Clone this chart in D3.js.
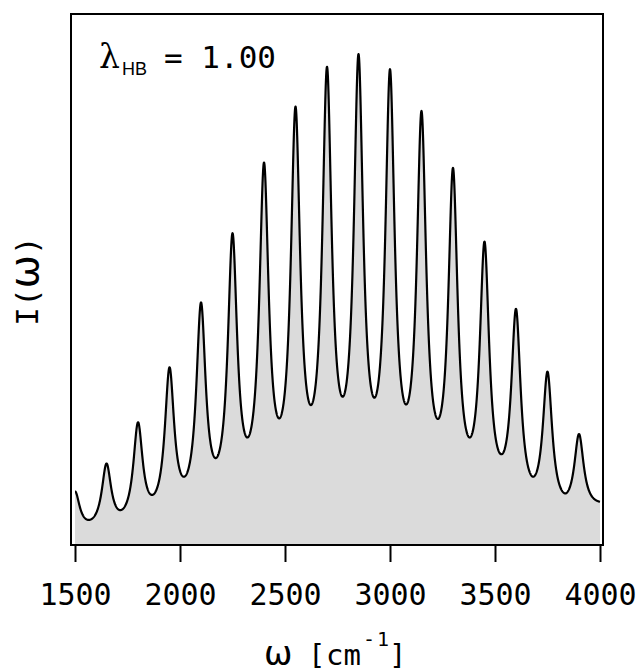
<!DOCTYPE html>
<html>
<head>
<meta charset="utf-8">
<script src="https://cdnjs.cloudflare.com/ajax/libs/d3/7.8.5/d3.min.js"></script>
<style>
  body { margin: 0; background: #fff; }
  svg { display: block; }
  .tick text { font-family: "DejaVu Sans Mono", monospace; }
</style>
</head>
<body>
<div id="chart"></div>
<script>
// peak maxima (cm^-1, relative intensity, tallest = 1)
const peakCm = [1500, 1650, 1800, 1950, 2100, 2250, 2400, 2550, 2700, 2850, 3000, 3150, 3300, 3450, 3600, 3750, 3900];
const peakHeight = [0.109, 0.166, 0.250, 0.362, 0.494, 0.635, 0.779, 0.893, 0.974, 1.000, 0.969, 0.884, 0.768, 0.618, 0.481, 0.353, 0.226];
// minima between the peaks (last one is the value at the right edge)
const valleyCm = [1567, 1714, 1868, 2019, 2170, 2322, 2471, 2624, 2775, 2925, 3080, 3230, 3381, 3532, 3680, 3837, 4000];
const valleyHeight = [0.051, 0.071, 0.102, 0.139, 0.177, 0.219, 0.258, 0.285, 0.302, 0.300, 0.287, 0.257, 0.219, 0.185, 0.139, 0.105, 0.088];
const xTicks = [1500, 2000, 2500, 3000, 3500, 4000];
const lineWidth = 27; // lorentzian half width, cm^-1

const W = 641, H = 672;
const frame = {left: 71, top: 14, right: 603, bottom: 545};

const x = d3.scaleLinear().domain([1500, 4000]).range([75, 600]);
const y = d3.scaleLinear().domain([0, 1.0815]).range([frame.bottom, frame.top]);

// lorentzian lines on a slowly varying baseline; amplitudes and baseline
// nodes are solved so the curve passes through the read maxima and minima
const lor = d => 1 / (1 + (d / lineWidth) ** 2);
function baseWeights(w) {
  const n = valleyCm.length, wts = new Array(n).fill(0);
  if (w <= valleyCm[0]) { wts[0] = 1; return wts; }
  if (w >= valleyCm[n - 1]) { wts[n - 1] = 1; return wts; }
  for (let j = 0; j < n - 1; j++) {
    if (w >= valleyCm[j] && w <= valleyCm[j + 1]) {
      const t = (w - valleyCm[j]) / (valleyCm[j + 1] - valleyCm[j]);
      wts[j] = 1 - t; wts[j + 1] = t;
      break;
    }
  }
  return wts;
}
function solve(M, b) {
  const n = b.length;
  const a = M.map((r, i) => r.concat([b[i]]));
  for (let c = 0; c < n; c++) {
    let p = c;
    for (let r = c + 1; r < n; r++) if (Math.abs(a[r][c]) > Math.abs(a[p][c])) p = r;
    [a[c], a[p]] = [a[p], a[c]];
    for (let r = 0; r < n; r++) {
      if (r === c) continue;
      const f = a[r][c] / a[c][c];
      for (let k = c; k <= n; k++) a[r][k] -= f * a[c][k];
    }
  }
  return a.map((r, i) => r[n] / r[i]);
}
const pts = peakCm.map((w, i) => [w, peakHeight[i]]).concat(valleyCm.map((w, i) => [w, valleyHeight[i]]));
const rows = pts.map(([w]) => peakCm.map(c => lor(w - c)).concat(baseWeights(w)));
const sol = solve(rows, pts.map(p => p[1]));
const amp = sol.slice(0, peakCm.length), base = sol.slice(peakCm.length);

const intensity = w => d3.sum(peakCm, (c, k) => amp[k] * lor(w - c)) + d3.sum(baseWeights(w), (t, j) => t * base[j]);
const spectrum = d3.range(1500, 4000.5, 1).map(w => ({w, v: intensity(w)}));

const svg = d3.select("#chart").append("svg").attr("width", W).attr("height", H);

svg.append("clipPath").attr("id", "clip")
  .append("rect").attr("x", 75).attr("y", frame.top).attr("width", 527).attr("height", frame.bottom - frame.top);

const g = svg.append("g").attr("clip-path", "url(#clip)");
g.append("path").datum(spectrum)
  .attr("fill", "#dbdbdb")
  .attr("d", d3.area().x(d => x(d.w)).y0(y(0)).y1(d => y(d.v)));
g.append("path").datum(spectrum)
  .attr("fill", "none").attr("stroke", "#000").attr("stroke-width", 2.2)
  .attr("stroke-linejoin", "round")
  .attr("d", d3.line().x(d => x(d.w)).y(d => y(d.v)));

svg.append("rect")
  .attr("x", frame.left).attr("y", frame.top)
  .attr("width", frame.right - frame.left).attr("height", frame.bottom - frame.top)
  .attr("fill", "none").attr("stroke", "#000").attr("stroke-width", 2);

const xAxis = svg.append("g")
  .attr("transform", `translate(0,${frame.bottom})`)
  .call(d3.axisBottom(x).tickValues(xTicks).tickFormat(d3.format("d")).tickSize(17).tickPadding(21.5));
xAxis.select(".domain").remove();
xAxis.selectAll(".tick line").attr("stroke-width", 2);
xAxis.selectAll(".tick text").attr("font-size", 30).attr("fill", "#000");

// axis titles
const mono = "DejaVu Sans Mono, monospace";
const greek = "DejaVu Sans, sans-serif";
const xt = svg.append("text").attr("y", 665)
  .attr("font-family", mono).attr("font-size", 29);
xt.append("tspan").attr("x", 264).attr("font-family", greek).attr("font-size", 34).text("ω");
xt.append("tspan").attr("x", 308).text("[");
xt.append("tspan").attr("x", 326).text("cm");
xt.append("tspan").attr("x", 363).attr("y", 646).attr("font-size", 20).attr("letter-spacing", 2).text("-1");
xt.append("tspan").attr("x", 389).attr("y", 665).text("]");

const yt = svg.append("text")
  .attr("transform", "translate(38,281) rotate(-90)")
  .attr("text-anchor", "middle")
  .attr("font-family", mono).attr("font-size", 31);
yt.append("tspan").text("I(");
yt.append("tspan").attr("font-family", greek).attr("font-size", 40).text("ω");
yt.append("tspan").text(")");

// lambda label
svg.append("text").attr("x", 99).attr("y", 68)
  .attr("font-family", "DejaVu Serif, serif").attr("font-size", 33).text("λ");
svg.append("text").attr("x", 122).attr("y", 75)
  .attr("font-family", "Liberation Sans, Arial, sans-serif").attr("font-size", 18).text("HB");
svg.append("text").attr("x", 164).attr("y", 68)
  .attr("font-family", mono).attr("font-size", 31).text("= 1.00");
</script>
</body>
</html>
